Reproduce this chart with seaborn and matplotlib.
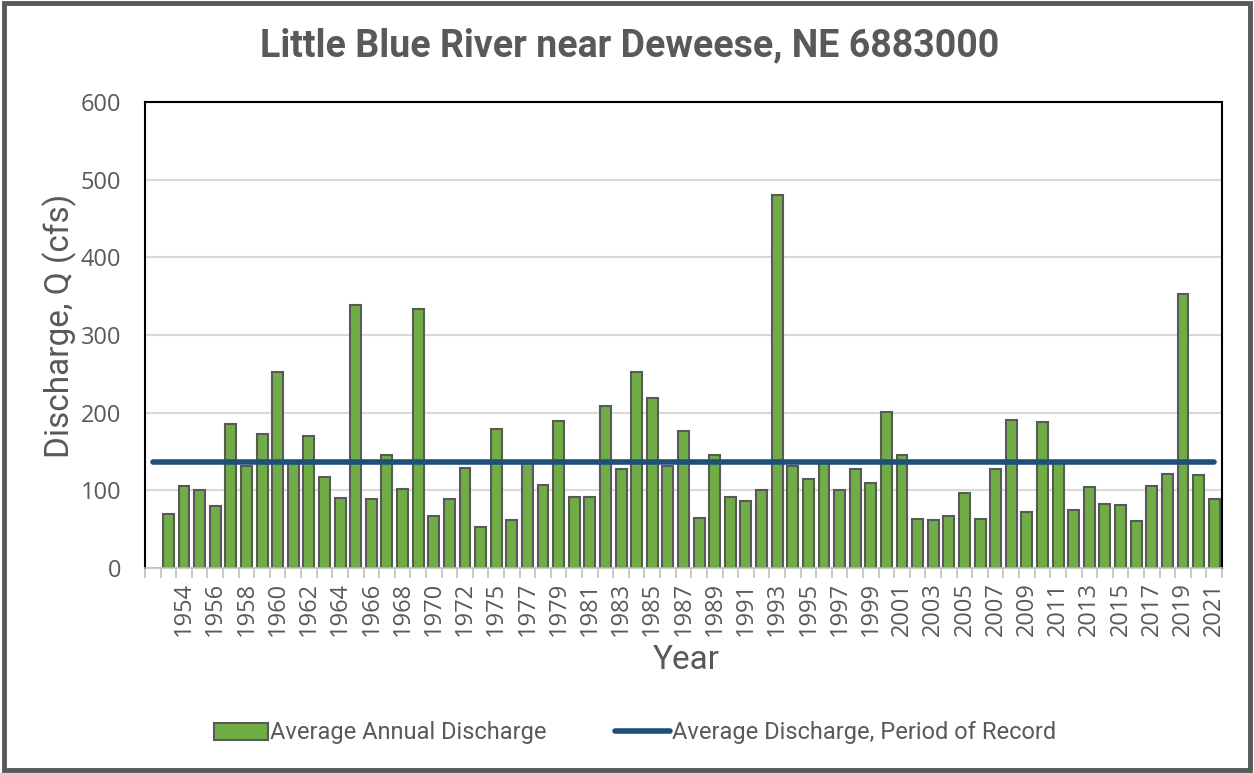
import numpy as np
import pandas as pd
import seaborn as sns
import matplotlib.pyplot as plt
from matplotlib.patches import Rectangle, Patch
from matplotlib.lines import Line2D

# years on record (1973 missing from the record)
years = [str(y) for y in range(1953, 1973)] + [str(y) for y in range(1974, 2022)]

# average annual discharge, cfs
discharge = [
    70, 105, 100, 80, 185, 131, 172, 252, 137, 170,
    117, 90, 338, 89, 146, 102, 334, 67, 89, 129,
    53, 179, 62, 136, 107, 189, 91, 92, 208, 127,
    252, 219, 131, 177, 65, 145, 92, 86, 100, 480,
    131, 115, 135, 101, 128, 109, 201, 145, 63, 62,
    67, 97, 63, 128, 191, 72, 188, 136, 75, 104,
    83, 81, 60, 106, 121, 353, 120, 89,
]
period_avg = 136

# excel sheet had an empty first category
order = [""] + years

df = pd.DataFrame({"Year": years, "Discharge": discharge})

sns.set_style("white")
plt.rcParams["font.family"] = ["Roboto", "DejaVu Sans"]

fig = plt.figure(figsize=(12.54, 7.73), dpi=100)
fig.subplots_adjust(left=145 / 1254, right=1222 / 1254, top=1 - 102 / 773, bottom=1 - 568 / 773)
ax = fig.add_subplot(111)

sns.barplot(data=df, x="Year", y="Discharge", order=order, color="#70AD47",
            edgecolor="#595959", linewidth=1.5, width=0.7, saturation=1, ax=ax, zorder=2)

n = len(order)
ax.plot(np.arange(n), np.full(n, period_avg), color="#1F4E79", lw=4,
        solid_capstyle="round", zorder=3)

ax.set_xlim(-0.5, n - 0.5)
ax.set_ylim(0, 600)
ax.set_yticks(range(0, 601, 100))
ax.grid(axis="y", color="#D9D9D9", lw=1.5, zorder=0)
ax.set_axisbelow(True)

# labels on every other category, tick marks between categories
ax.set_xticks(range(0, n, 2))
ax.set_xticklabels([order[i] for i in range(0, n, 2)], rotation=90)
ax.set_xticks(np.arange(-0.5, n, 1), minor=True)
ax.tick_params(axis="x", which="major", length=0, pad=10, labelsize=17, labelcolor="#595959")
ax.tick_params(axis="x", which="minor", length=7, width=1.2, color="#BFBFBF", bottom=True)
ax.tick_params(axis="y", length=0, pad=17, labelsize=17, labelcolor="#595959")
for lab in ax.get_xticklabels() + ax.get_yticklabels():
    lab.set_family(["Open Sans", "DejaVu Sans"])

for s in ["left", "top", "right"]:
    ax.spines[s].set_color("black")
    ax.spines[s].set_linewidth(1.5)
    ax.spines[s].set_visible(True)
ax.spines["bottom"].set_color("#BFBFBF")
ax.spines["bottom"].set_linewidth(1.2)

ax.set_xlabel("Year", fontsize=24, color="#595959", va="center")
ax.set_ylabel("Discharge, Q (cfs)", fontsize=24, color="#595959", va="center")
ax.xaxis.set_label_coords(0.5 + (686 - 683.5) / 1077, -(660 - 568) / 466)
ax.yaxis.set_label_coords(-(145 - 60) / 1077, (568 - 326) / 466)

fig.text(630 / 1254, 1 - 46 / 773, "Little Blue River near Deweese, NE 6883000",
         ha="center", va="center", fontsize=27, fontweight="bold", color="#595959")

handles = [
    Patch(facecolor="#70AD47", edgecolor="#595959", linewidth=1.5, label="Average Annual Discharge"),
    Line2D([0], [0], color="#1F4E79", lw=4, label="Average Discharge, Period of Record"),
]
fig.legend(handles=handles, loc="center", bbox_to_anchor=(635 / 1254, 1 - 733 / 773),
           ncol=2, frameon=False, fontsize=17, labelcolor="#595959",
           handlelength=2.3, handletextpad=0.1, columnspacing=2.9)

fig.patches.append(Rectangle((0.003, 0.004), 0.994, 0.992, transform=fig.transFigure,
                             fill=False, edgecolor="#595959", lw=3.5))

fig.savefig("out.png", dpi=100)
